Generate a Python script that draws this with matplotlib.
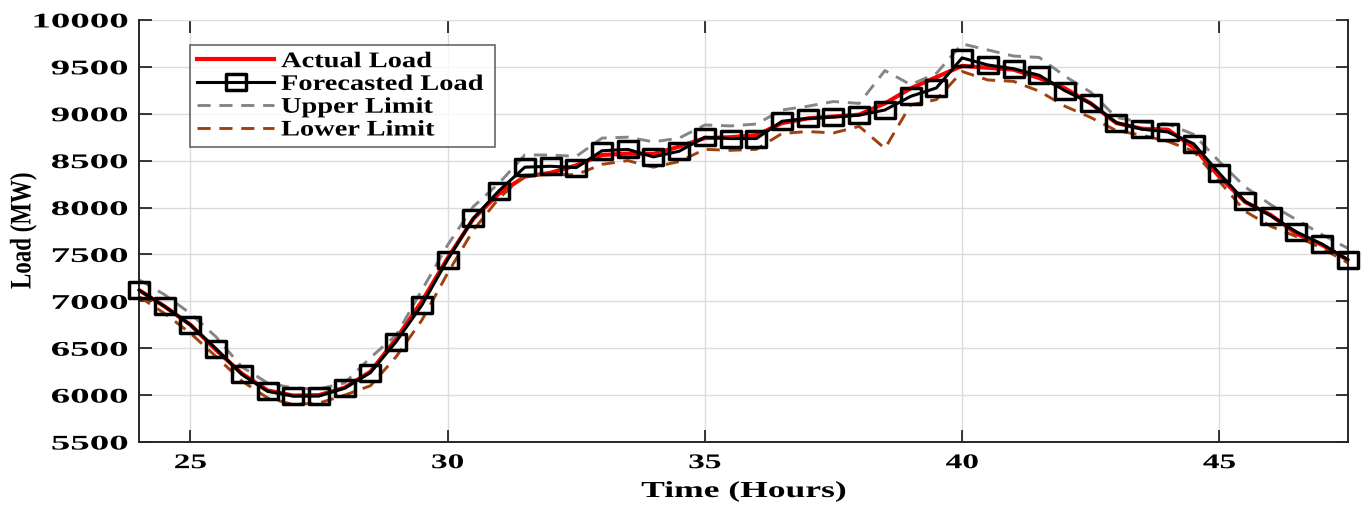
import numpy as np
import matplotlib
matplotlib.use('Agg')
import matplotlib.pyplot as plt
from matplotlib.patheffects import AbstractPathEffect
from matplotlib.transforms import Affine2D
from matplotlib.path import Path

# half-hour steps, hours 24 .. 47.5
hours = np.arange(24, 48, 0.5)

actual = [7120, 6945, 6750, 6480, 6230, 6050, 5995, 6000, 6080, 6250,
          6600, 7000, 7460, 7880, 8150, 8330, 8370, 8450, 8560, 8575,
          8570, 8650, 8740, 8750, 8770, 8900, 8950, 8970, 8990, 9110,
          9270, 9390, 9510, 9490, 9470, 9380, 9270, 9110, 8900, 8840,
          8830, 8640, 8330, 8060, 7920, 7720, 7600, 7440]

forecast = [7120, 6945, 6750, 6495, 6220, 6040, 5990, 5990, 6075, 6240,
            6570, 6960, 7445, 7885, 8180, 8430, 8440, 8425, 8605, 8620,
            8540, 8600, 8750, 8735, 8735, 8920, 8950, 8965, 8985, 9040,
            9185, 9275, 9595, 9520, 9480, 9410, 9245, 9110, 8905, 8835,
            8805, 8680, 8365, 8065, 7912, 7740, 7610, 7443]

upper = [7230, 7070, 6870, 6620, 6300, 6130, 6075, 6065, 6130, 6400,
         6640, 7120, 7600, 8010, 8260, 8560, 8560, 8545, 8740, 8750,
         8700, 8740, 8880, 8870, 8890, 9040, 9080, 9130, 9110, 9460,
         9310, 9430, 9745, 9680, 9615, 9600, 9400, 9230, 8960, 8910,
         8890, 8780, 8490, 8220, 8030, 7870, 7710, 7565]

lower = [7050, 6870, 6660, 6410, 6150, 5970, 5900, 5915, 6000, 6100,
         6410, 6800, 7300, 7760, 8100, 8345, 8350, 8350, 8460, 8500,
         8430, 8490, 8620, 8610, 8620, 8790, 8810, 8795, 8865, 8630,
         9095, 9150, 9450, 9360, 9345, 9240, 9080, 8960, 8820, 8770,
         8705, 8600, 8280, 7960, 7800, 7690, 7565, 7410]

labels = ['Actual Load', 'Forecasted Load', 'Upper Limit', 'Lower Limit']


class Stretch(AbstractPathEffect):
    # stretch drawn text in display space (the reference text is wide)
    def __init__(self, sx=1.0, sy=1.0, ax=0.5, ay=0.5):
        super().__init__()
        self.sx, self.sy, self.ax, self.ay = sx, sy, ax, ay

    def draw_path(self, renderer, gc, tpath, affine, rgbFace=None):
        ext = tpath.get_extents(affine)
        x0 = ext.x0 + self.ax * ext.width
        y0 = ext.y0 + self.ay * ext.height
        st = Affine2D().translate(-x0, -y0).scale(self.sx, self.sy).translate(x0, y0)
        renderer.draw_path(gc, tpath, affine + st, rgbFace)


plt.rcParams['font.family'] = ['Liberation Serif', 'DejaVu Serif']
plt.rcParams['font.weight'] = 'bold'

# wide rectangle marker like the reference squares
box = Path([(-1.3, -1), (1.3, -1), (1.3, 1), (-1.3, 1), (-1.3, -1)],
           [Path.MOVETO, Path.LINETO, Path.LINETO, Path.LINETO, Path.CLOSEPOLY])

fig = plt.figure(figsize=(13.65, 5.11), dpi=100)
ax = fig.add_axes([0.1018, 0.135, 0.8857, 0.826])

ax.plot(hours, actual, color='#ff0000', lw=3.0, label=labels[0])
ax.plot(hours, forecast, color='black', lw=2.2, marker=box, ms=15,
        mfc='none', mec='black', mew=2.5, label=labels[1], clip_on=False, zorder=4)
ax.plot(hours, upper, color='#858585', lw=2.1, ls=(0, (4.5, 3)), label=labels[2])
ax.plot(hours, lower, color='#a0410d', lw=2.1, ls=(0, (4.5, 3)), label=labels[3])

ax.set_xlim(24, 47.5)
ax.set_ylim(5500, 10000)
ax.set_xticks([25, 30, 35, 40, 45])
ax.set_yticks(np.arange(5500, 10001, 500))
ax.grid(True, color='#dcdcdc', lw=1)
ax.tick_params(direction='in', length=9, width=1.3, labelsize=15,
               top=True, right=True, colors='#262626', labelcolor='black')
ax.tick_params(axis='y', pad=8)
ax.tick_params(axis='x', pad=8)
for side in ['left', 'right', 'bottom', 'top']:
    ax.spines[side].set_linewidth(1.4)
    ax.spines[side].set_color('#262626')
ax.spines['top'].set_visible(False)

for lbl in ax.get_yticklabels():
    lbl.set_path_effects([Stretch(sx=1.87, ax=1.0)])
for lbl in ax.get_xticklabels():
    lbl.set_path_effects([Stretch(sx=1.6, ax=0.5)])

ax.set_xlabel('Time (Hours)', fontsize=16.5, fontweight='bold',
              path_effects=[Stretch(sx=1.55)])
ax.set_ylabel('Load (MW)', fontsize=16.5, fontweight='bold',
              path_effects=[Stretch(sx=1.3)])
ax.xaxis.set_label_coords(0.5, -0.092)
ax.yaxis.set_label_coords(-0.087, 0.5)

leg = ax.legend(loc='upper left', bbox_to_anchor=(0.0422, 0.5, 0.2523, 0.4408),
                mode='expand', borderaxespad=0, fontsize=16,
                frameon=True, fancybox=False, edgecolor='#404040',
                handlelength=3.5, borderpad=0.3, labelspacing=0.1,
                handletextpad=0.3)
leg.get_frame().set_linewidth(1.2)
for t in leg.get_texts():
    t.set_path_effects([Stretch(sx=1.28, ax=0.0)])

fig.savefig('out.png', dpi=100)
